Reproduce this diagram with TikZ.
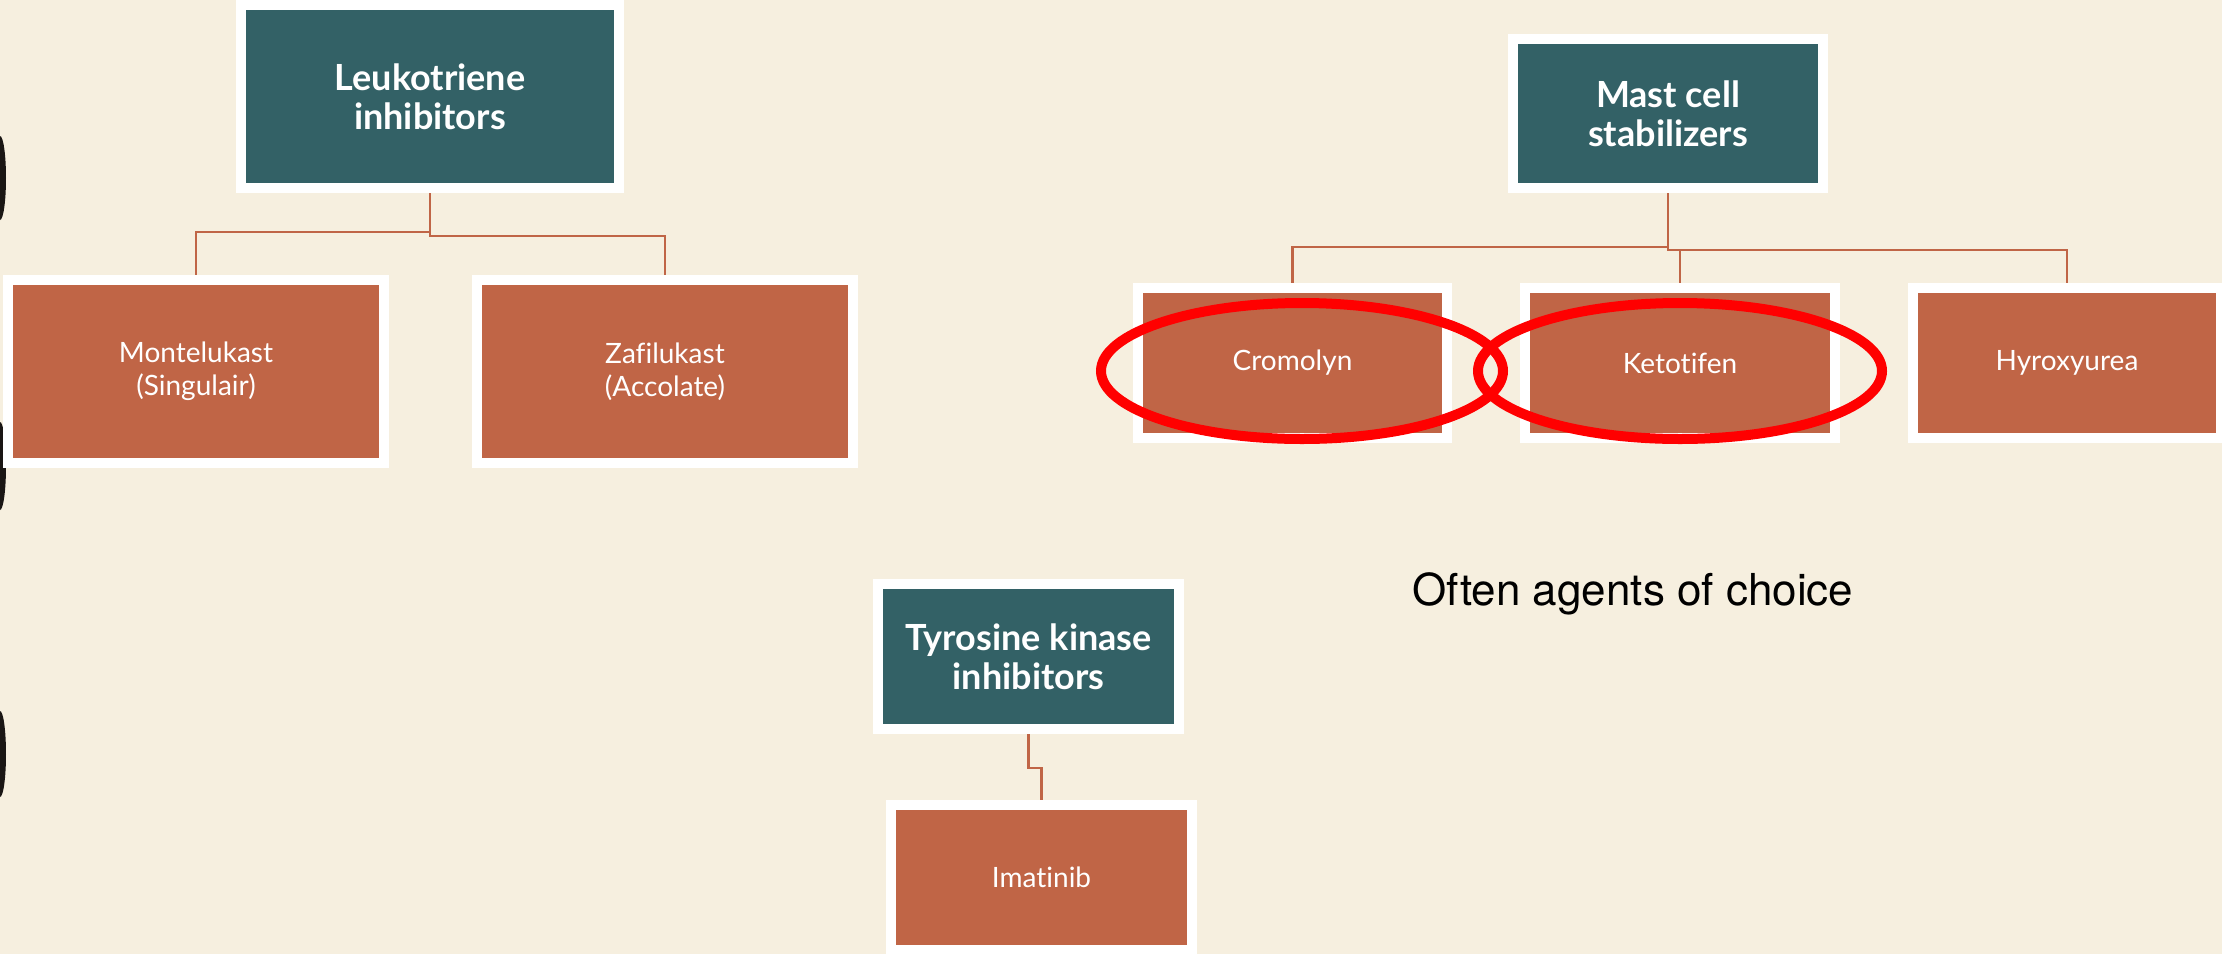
\documentclass[tikz,border=0pt]{standalone}
\usepackage{fontspec}
\setmainfont{Lato}[Ligatures=CommonOff]
\newfontfamily\notefont{TeX Gyre Heros}
\definecolor{bg}{HTML}{F6EFDF}
\definecolor{tealbox}{HTML}{336166}
\definecolor{rust}{HTML}{C06546}
\definecolor{ringred}{HTML}{FF0000}
\definecolor{edgeblack}{HTML}{1A1614}
\begin{document}
\begin{tikzpicture}[x=1pt,y=-1pt,
  headbox/.style={draw=white, line width=10pt, fill=tealbox, text=white,
    font=\fontsize{36}{39}\selectfont\bfseries, align=center, inner sep=0pt},
  itembox/.style={draw=white, line width=10pt, fill=rust, text=white,
    font=\fontsize{28}{33}\selectfont, align=center, inner sep=0pt},
  conn/.style={draw=rust, line width=2.5pt},
  ringline/.style={draw=ringred, line width=10pt}]
\fill[bg] (0,0) rectangle (2222,954);
\useasboundingbox (0,0) rectangle (2222,954);
% decorative black edges at left
\fill[edgeblack] (0,178) ellipse [x radius=6, y radius=42];
\fill[edgeblack] (0,466) ellipse [x radius=6, y radius=44];
\fill[edgeblack] (0,754) ellipse [x radius=6, y radius=43];
% header boxes
\node[headbox, minimum width=378, minimum height=183] (leuko) at (430,96.5) {Leukotriene\\inhibitors};
\node[headbox, minimum width=310, minimum height=149] (mast) at (1668,113.5) {Mast cell\\stabilizers};
\node[headbox, minimum width=301, minimum height=145] (tyro) at (1028.5,656.5) {Tyrosine kinase\\inhibitors};
% item boxes
\node[itembox, minimum width=376, minimum height=183] (monte) at (196,371.5) {Montelukast\\(Singulair)};
\node[itembox, minimum width=376, minimum height=183] (zafi) at (665,371.5) {Zafilukast\\(Accolate)};
\node[itembox, minimum width=309, minimum height=150] (crom) at (1292.5,363) {Cromolyn};
\node[itembox, minimum width=310, minimum height=150] (keto) at (1680,363) {Ketotifen};
\node[itembox, minimum width=308, minimum height=150] (hyro) at (2067,363) {Hyroxyurea};
\node[itembox, minimum width=301, minimum height=145] (imat) at (1041.5,877.5) {Imatinib};
% connectors
\draw[conn] (leuko.south) -- ++(0,39) -| (monte.north);
\draw[conn] (leuko.south) -- ++(0,43) -| (zafi.north);
\draw[conn] (mast.south) -- ++(0,54) -| (crom.north);
\draw[conn] (mast.south) -- ++(0,57) -| (keto.north);
\draw[conn] (mast.south) -- ++(0,57) -| (hyro.north);
\draw[conn] (tyro.south) -- ++(0,34) -| (imat.north);
% red rings
\draw[ringline] (1302,371) ellipse [x radius=201, y radius=68];
\draw[ringline] (1680,371) ellipse [x radius=202, y radius=68];
% note
\node[font=\notefont\fontsize{44}{50}\selectfont, anchor=base, text=black] (note) at (1633,605) {Often agents of choice};
\end{tikzpicture}
\end{document}
